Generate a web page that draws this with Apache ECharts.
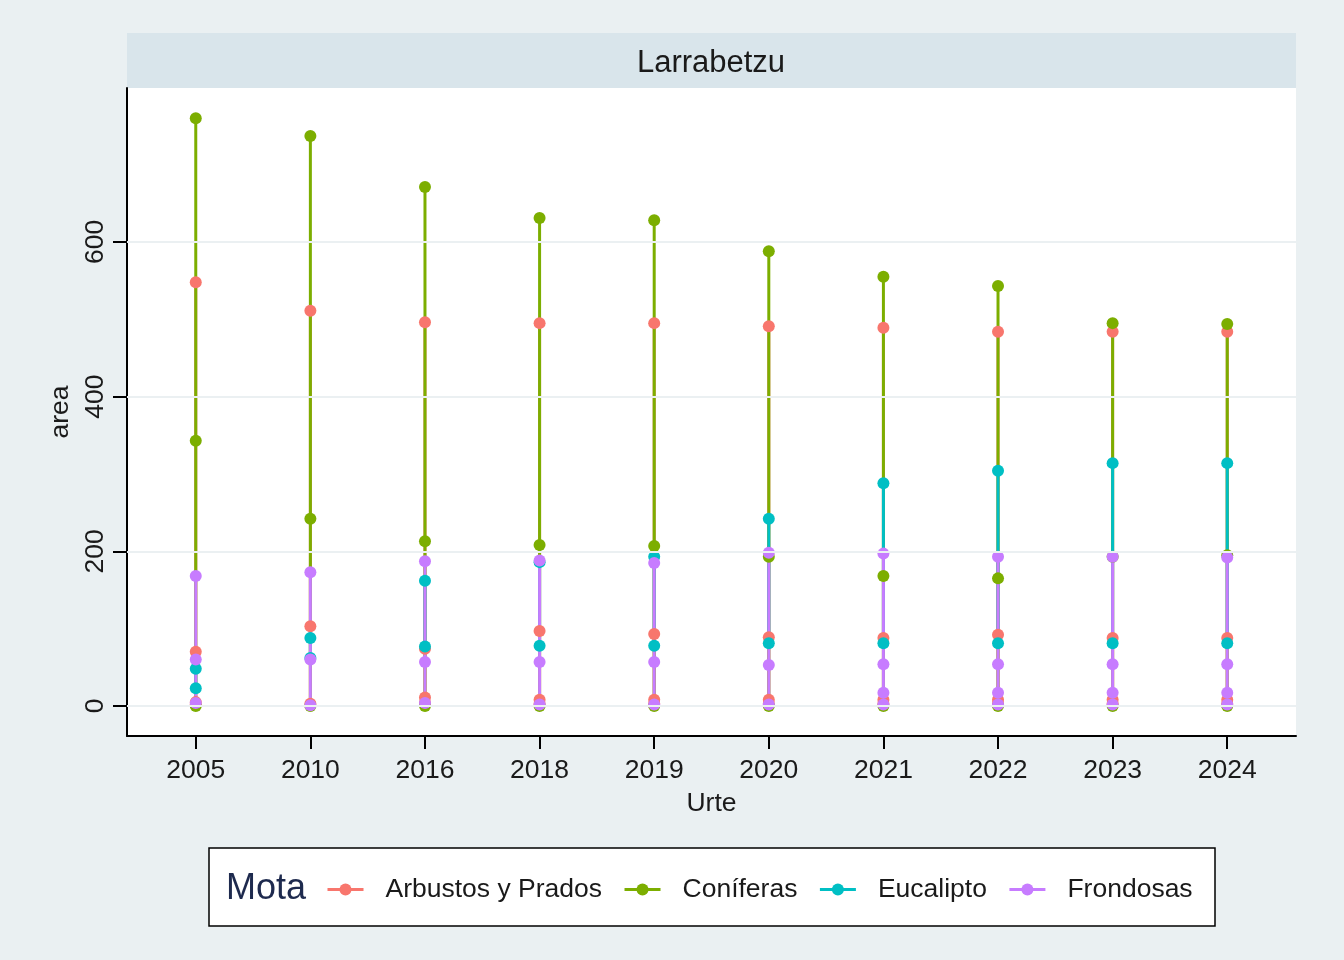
<!DOCTYPE html>
<html>
<head>
<meta charset="utf-8">
<script src="https://cdn.jsdelivr.net/npm/echarts@6/dist/echarts.min.js"></script>
<style>
  html, body { margin: 0; padding: 0; background: #EAF0F2; }
  #chart { width: 1344px; height: 960px; }
</style>
</head>
<body>
<div id="chart"></div>
<script>
// years on the x axis, and the values of each Mota per year
const years = ['2005', '2010', '2016', '2018', '2019', '2020', '2021', '2022', '2023', '2024'];
const yTicks = [0, 200, 400, 600];
const motas = ['Arbustos y Prados', 'Coníferas', 'Eucalipto', 'Frondosas'];
const colors = ['#F8766D', '#7CAE00', '#00BFC4', '#C77CFF'];

const arbustos = [
  [548, 70, 5, 2], [511, 103, 3], [496, 74, 11, 4], [495, 97, 8, 3], [495, 93, 8, 3],
  [491, 89, 8, 3], [489, 88, 8, 3], [484, 92, 8, 3], [484, 88, 8, 3], [484, 88, 8, 3]
];
const coniferas = [
  [760, 343, 0], [737, 242, 0], [671, 213, 0], [631, 208, 0], [628, 207, 0],
  [588, 193, 0], [555, 168, 0], [543, 165, 0], [495, 193, 0], [494, 195, 0]
];
const eucalipto = [
  [48, 23], [88, 62], [162, 77], [186, 78], [193, 78],
  [242, 81], [288, 81], [304, 81], [314, 81], [314, 81]
];
const frondosas = [
  [168, 60, 4], [173, 60, 1], [187, 57, 4], [188, 57, 2], [185, 57, 2],
  [198, 53, 2], [197, 54, 17, 2], [193, 54, 17, 2], [193, 54, 17, 2], [192, 54, 17, 2]
];

const groups = [arbustos, coniferas, eucalipto, frondosas];
const xIdx = years.map((y, i) => i);
const font = 'Liberation Sans, Arial, sans-serif';

const chart = echarts.init(document.getElementById('chart'));

// one segment per year, broken by an empty point
const lineData = g => {
  const out = [];
  g.forEach((vals, i) => {
    vals.slice().sort((a, b) => a - b).forEach(v => out.push([i, v]));
    out.push([i, '-']);
  });
  return out;
};
const pointData = g => {
  const out = [];
  g.forEach((vals, i) => vals.forEach(v => out.push([i, v])));
  return out;
};

const series = [{
  type: 'line', data: [], z: 1, silent: true,
  markLine: {
    silent: true, symbol: ['none', 'none'], label: { show: false },
    lineStyle: { color: '#EBF0F2', width: 2, type: 'solid' },
    data: yTicks.map(v => ({ yAxis: v }))
  }
}];
groups.forEach((g, k) => {
  series.push({
    name: motas[k], type: 'line', data: lineData(g), connectNulls: false,
    symbol: 'circle', showSymbol: false, symbolSize: 12, z: 2,
    lineStyle: { color: colors[k], width: 3 }, itemStyle: { color: colors[k] }
  });
});
groups.forEach((g, k) => {
  series.push({
    name: motas[k], type: 'scatter', data: pointData(g), symbolSize: 12, z: 3,
    itemStyle: { color: colors[k], opacity: 1 }
  });
});

chart.setOption({
  backgroundColor: '#EAF0F2',
  animation: false,
  textStyle: { fontFamily: font },
  grid: { left: 127, right: 48, top: 88, bottom: 224, show: true, backgroundColor: '#fff', borderWidth: 0 },
  xAxis: {
    type: 'value', min: -0.6, max: 9.6,
    axisLine: { show: true, onZero: false, lineStyle: { color: '#000', width: 2 } },
    axisTick: { show: true, customValues: xIdx, length: 13, lineStyle: { color: '#000', width: 2 } },
    axisLabel: { customValues: xIdx, formatter: v => years[v], fontSize: 26.5, color: '#1a1a1a', margin: 21 },
    splitLine: { show: false },
    name: 'Urte', nameLocation: 'middle', nameGap: 54,
    nameTextStyle: { fontSize: 26.5, color: '#1a1a1a' }
  },
  yAxis: {
    type: 'value', min: -38.8, max: 799,
    axisLine: { show: true, onZero: false, lineStyle: { color: '#000', width: 2 } },
    axisTick: { show: true, customValues: yTicks, length: 14, lineStyle: { color: '#000', width: 2 } },
    axisLabel: { customValues: yTicks, rotate: 90, fontSize: 26.5, color: '#1a1a1a', margin: 18 },
    splitLine: { show: false },
    name: 'area', nameLocation: 'middle', nameGap: 46, nameRotate: 90,
    nameTextStyle: { fontSize: 26.5, color: '#1a1a1a' }
  },
  legend: {
    data: motas, left: 321, top: 871, itemWidth: 36, itemHeight: 15, itemGap: 21,
    lineStyle: { width: 3 },
    textStyle: { fontSize: 26.5, color: '#1a1a1a', padding: [0, 0, 0, 17] }
  },
  graphic: [
    { type: 'rect', z: 0, shape: { x: 127, y: 33, width: 1169, height: 55 }, style: { fill: '#D9E5EB' } },
    { type: 'text', z: 1, x: 711, y: 63, style: { text: 'Larrabetzu', font: '31px ' + font, fill: '#1a1a1a', textAlign: 'center', textVerticalAlign: 'middle' } },
    { type: 'rect', z: 0, shape: { x: 209, y: 848, width: 1006, height: 78 }, style: { fill: '#fff', stroke: '#000', lineWidth: 1.5 } },
    { type: 'text', z: 1, x: 226, y: 889, style: { text: 'Mota', font: '36px ' + font, fill: '#1E2A4E', textVerticalAlign: 'middle' } }
  ],
  series: series
});
</script>
</body>
</html>
